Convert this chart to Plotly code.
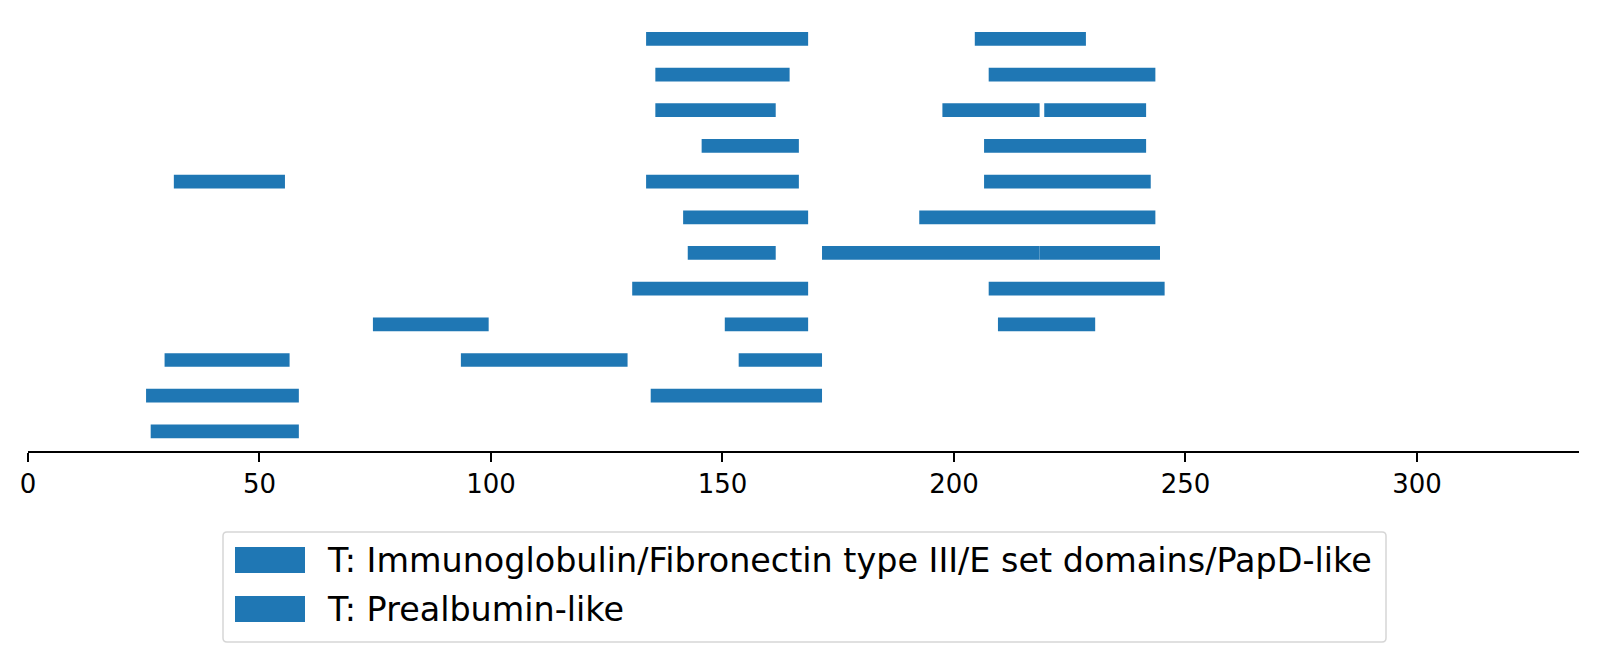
import plotly.graph_objects as go

# domain hits per sequence row (row 0 = bottom), edges
immuno_rows = [0, 1, 1, 2, 2, 2, 3, 3, 3, 4, 4, 5, 5, 6, 6,
               7, 7, 7, 8, 8, 9, 9, 10, 10, 11, 11]
immuno_start = [26.5, 25.5, 134.5, 29.5, 93.5, 153.5, 74.5, 150.5, 209.5, 130.5, 207.5,
                142.5, 171.5, 141.5, 192.5, 31.5, 133.5, 206.5, 145.5, 206.5,
                135.5, 197.5, 135.5, 207.5, 133.5, 204.5]
immuno_end = [58.5, 58.5, 171.5, 56.5, 129.5, 171.5, 99.5, 168.5, 230.5, 168.5, 245.5,
              161.5, 218.5, 168.5, 243.5, 55.5, 166.5, 242.5, 166.5, 241.5,
              161.5, 218.5, 164.5, 243.5, 168.5, 228.5]

preal_rows = [5, 9]
preal_start = [218.5, 219.5]
preal_end = [244.5, 241.5]

names = ["T: Immunoglobulin/Fibronectin type III/E set domains/PapD-like",
         "T: Prealbumin-like"]
xticks = [0, 50, 100, 150, 200, 250, 300]

blue = "#1f77b4"
font = "DejaVu Sans"

# page body has an 8px margin, so the figure is a bit smaller and shifted
OFF = 8
W, H = 1598 - OFF, 661 - OFF
ML, MR, MT, MB = 20, 19, 11, 210
plot_w = W - ML - MR
plot_h = H - MT - MB


def px(x):
    return (x - OFF - ML) / plot_w


def py(y):
    return (H - MB - (y - OFF)) / plot_h


def rounded_box(x0, y0, x1, y1, r=4):
    pts = [
        f"M{px(x0 + r)},{py(y0)}",
        f"L{px(x1 - r)},{py(y0)}",
        f"Q{px(x1)},{py(y0)} {px(x1)},{py(y0 + r)}",
        f"L{px(x1)},{py(y1 - r)}",
        f"Q{px(x1)},{py(y1)} {px(x1 - r)},{py(y1)}",
        f"L{px(x0 + r)},{py(y1)}",
        f"Q{px(x0)},{py(y1)} {px(x0)},{py(y1 - r)}",
        f"L{px(x0)},{py(y0 + r)}",
        f"Q{px(x0)},{py(y0)} {px(x0 + r)},{py(y0)}",
        "Z",
    ]
    return " ".join(pts)


fig = go.Figure()
for rows, st, en, nm in [(immuno_rows, immuno_start, immuno_end, names[0]),
                         (preal_rows, preal_start, preal_end, names[1])]:
    fig.add_trace(go.Bar(
        y=rows, base=st, x=[e - s for s, e in zip(st, en)],
        orientation="h", width=0.385, name=nm,
        marker=dict(color=blue, line=dict(width=0)),
        showlegend=False,
    ))

# legend drawn by hand (matplotlib style wide swatches)
shapes = [dict(type="path", xref="paper", yref="paper",
               path=rounded_box(223, 532, 1386, 642),
               line=dict(color="#d6d6d6", width=1.5), fillcolor="white")]
annotations = []
for i, nm in enumerate(names):
    top = 547 + i * 49
    shapes.append(dict(type="rect", xref="paper", yref="paper",
                       x0=px(235), x1=px(305), y0=py(top + 26), y1=py(top),
                       line=dict(width=0), fillcolor=blue))
    annotations.append(dict(xref="paper", yref="paper", x=px(325), y=py(top + 13),
                            text=nm, showarrow=False, xanchor="left", yanchor="middle",
                            font=dict(family=font, size=33.4, color="black")))

fig.update_layout(
    width=W, height=H,
    margin=dict(l=ML, r=MR, t=MT, b=MB),
    plot_bgcolor="white", paper_bgcolor="white",
    barmode="overlay", showlegend=False,
    shapes=shapes, annotations=annotations,
    xaxis=dict(range=[0, 335], tickvals=xticks, showgrid=False, zeroline=False,
               showline=True, linecolor="black", linewidth=1.6,
               ticks="outside", ticklen=9, tickwidth=1.6, tickcolor="black",
               tickfont=dict(family=font, size=26, color="black")),
    yaxis=dict(range=[-0.55, 11.556], visible=False),
)

fig.write_html("out.html")
